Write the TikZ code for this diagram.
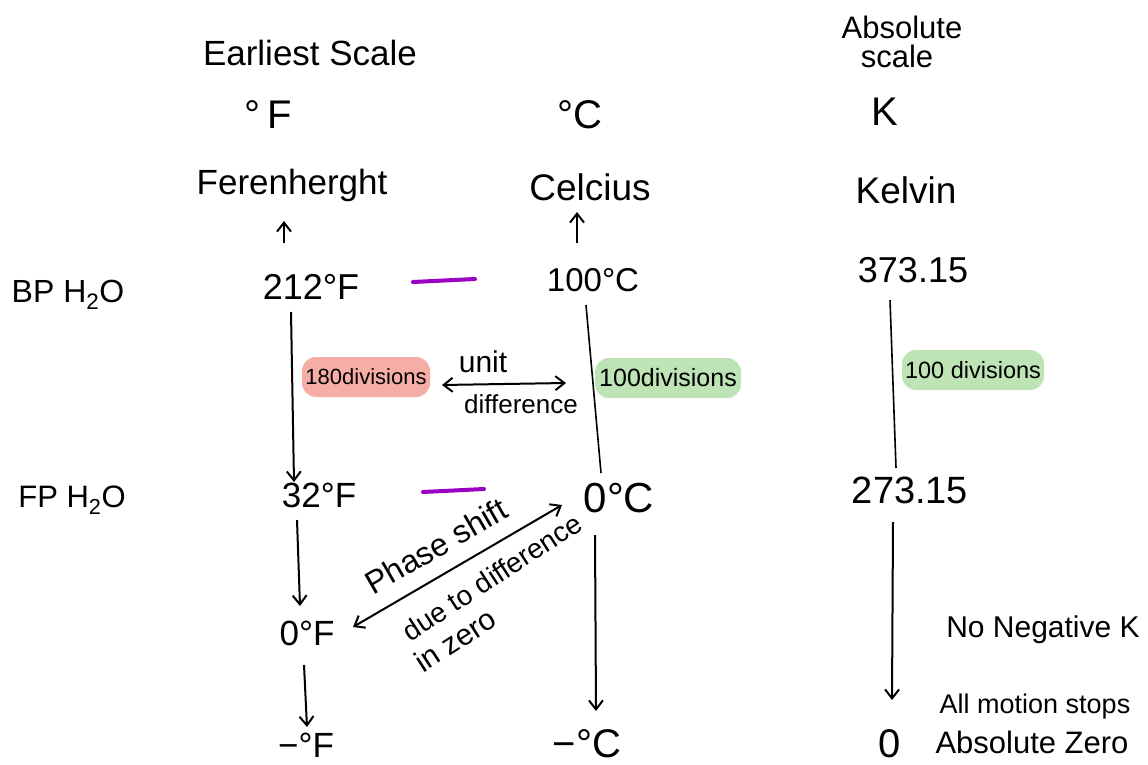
\documentclass[tikz,border=0pt]{standalone}
\usepackage{fontspec}
\setmainfont{Liberation Sans}
\usetikzlibrary{arrows.meta}
\definecolor{hlred}{HTML}{F5ADA5}
\definecolor{hlgreen}{HTML}{BEE3B5}
\definecolor{pen}{HTML}{9A00C4}
\begin{document}
\begin{tikzpicture}[x=1pt,y=-1pt,
  txt/.style={inner sep=0pt, font=\fontsize{#1}{#1}\selectfont},
  conn/.style={line width=2pt, -{Straight Barb[length=9pt,width=14pt]}},
  plainline/.style={line width=1.6pt},
  dbl/.style={line width=2pt, {Straight Barb[length=9pt,width=14pt]}-{Straight Barb[length=9pt,width=14pt]}},
  hl/.style={rounded corners=14pt, inner sep=0pt, minimum height=40pt},
  pline/.style={pen, line width=4pt, line cap=round}]
\useasboundingbox (0,0) rectangle (1148,765);

% headers
\node[txt=35] (earliest) at (310,53) {Earliest Scale};
\node[txt=31] (absolute) at (902,27) {Absolute};
\node[txt=31] (absscale) at (897,56) {scale};
\node[txt=40] (degF) at (268,115) {°\,F};
\node[txt=40] (degC) at (580,115) {°C};
\node[txt=40] (degK) at (885,112) {K};
\node[txt=35] (fahr) at (292,185) {Ferenherght};
\node[txt=37] (cels) at (590,187) {Celcius};
\node[txt=37] (kelv) at (906,190) {Kelvin};

% row labels
\node[txt=32] (bp) at (68,295) {BP H\textsubscript{2}O};
\node[txt=31] (fp) at (72,500) {FP H\textsubscript{2}O};

% boiling point row
\node[txt=36] (f212) at (311,287) {212°F};
\node[txt=33] (c100) at (593,280) {100°C};
\node[txt=36] (k373) at (913,270) {373.15};
\coordinate (pb1) at (413,282);
\coordinate (pb2) at (475,279);
\draw[pline] (pb1) -- (pb2);

% arrows to scale names
\coordinate (fa1) at (284,243);
\coordinate (fa2) at (284,221);
\draw[conn] (fa1) -- (fa2);
\coordinate (ca1) at (577,243);
\coordinate (ca2) at (577,212);
\draw[conn] (ca1) -- (ca2);

% freezing point row
\node[txt=35] (f32) at (319,495) {32°F};
\node[txt=42] (c0) at (619,498) {0°C};
\node[txt=38] (k273) at (910,490) {273.15};
\coordinate (pf1) at (423,492);
\coordinate (pf2) at (484,489);
\draw[pline] (pf1) -- (pf2);

% vertical connectors
\coordinate (fl1) at (291,312);
\coordinate (fl2) at (294,482);
\draw[conn] (fl1) -- (fl2);
\coordinate (cl1) at (586,305);
\coordinate (cl2) at (601,473);
\draw[plainline] (cl1) -- (cl2);
\coordinate (kl1) at (890,300);
\coordinate (kl2) at (896,468);
\draw[plainline] (kl1) -- (kl2);

% divisions
\node[hl, fill=hlred, minimum width=128pt, txt=22] (d180) at (366,377) {180divisions};
\node[hl, fill=hlgreen, minimum width=146pt, txt=25] (d100c) at (668,378) {100divisions};
\node[hl, fill=hlgreen, minimum width=142pt, txt=23.5] (d100k) at (973,370) {100 divisions};

% unit difference
\coordinate (ud1) at (442,385);
\coordinate (ud2) at (566,383);
\draw[dbl] (ud1) -- (ud2);
\node[txt=30] (unit) at (483,362) {unit};
\node[txt=26] (diff) at (521,404) {difference};

% lower part
\node[txt=35] (f0) at (307,633) {0°F};
\coordinate (fz1) at (297,520);
\coordinate (fz2) at (300,606);
\draw[conn] (fz1) -- (fz2);
\coordinate (ps1) at (353,627);
\coordinate (ps2) at (562,505);
\draw[dbl] (ps1) -- (ps2);
\node[txt=32, rotate=30] (phase) at (436,546) {Phase shift};
\node[txt=28, rotate=33] (dueto) at (492,577) {due to difference};
\node[txt=30, rotate=33] (inzero) at (455,640) {in zero};

\coordinate (cz1) at (595,535);
\coordinate (cz2) at (596,711);
\draw[conn] (cz1) -- (cz2);
\coordinate (kz1) at (893,522);
\coordinate (kz2) at (892,700);
\draw[conn] (kz1) -- (kz2);
\coordinate (fm1) at (304,665);
\coordinate (fm2) at (307,727);
\draw[conn] (fm1) -- (fm2);

\node[txt=35] (fneg) at (306,745) {−°F};
\node[txt=40] (cneg) at (587,744) {−°C};
\node[txt=40] (kzero) at (890,744) {0};
\node[txt=30] (noneg) at (1043,630) {No Negative K};
\node[txt=27] (motion) at (1035,707) {All motion stops};
\node[txt=31] (abszero) at (1032,742) {Absolute Zero};
\end{tikzpicture}
\end{document}
